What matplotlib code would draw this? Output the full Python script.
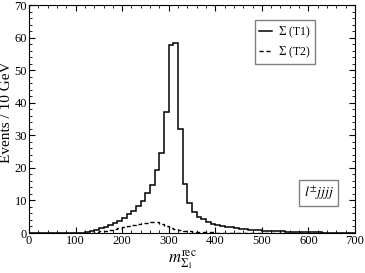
import numpy as np
import matplotlib
matplotlib.use("Agg")
import matplotlib.pyplot as plt
from matplotlib.ticker import MultipleLocator

plt.rcParams['font.family'] = ['Liberation Serif', 'DejaVu Serif']
plt.rcParams['mathtext.fontset'] = 'stix'

# bin edges, 10 GeV each
edges = np.arange(0, 710, 10)

# Sigma (T1), events per bin
t1 = [0, 0, 0, 0, 0, 0, 0, 0, 0, 0,
      0.05, 0.1, 0.2, 0.5, 0.9, 1.4, 1.9, 2.4, 3.1, 3.6,
      4.7, 5.8, 6.8, 8.2, 9.8, 12.2, 14.8, 19.3, 24.5, 37.3,
      57.6, 58.5, 31.8, 15.1, 9.2, 6.6, 5.0, 4.2, 3.4, 2.8,
      2.4, 2.2, 1.9, 1.7, 1.5, 1.3, 1.2, 1.0, 0.9, 0.8,
      0.7, 0.65, 0.6, 0.55, 0.5, 0.45, 0.4, 0.35, 0.3, 0.3,
      0.25, 0.2, 0.2, 0.15, 0.15, 0.1, 0.1, 0.1, 0.05, 0.05]

# Sigma (T2)
t2 = [0, 0, 0, 0, 0, 0, 0, 0, 0, 0,
      0, 0, 0.05, 0.1, 0.3, 0.5, 0.7, 0.9, 1.2, 1.5,
      1.8, 2.1, 2.4, 2.7, 3.0, 3.2, 3.5, 3.3, 2.8, 2.2,
      1.6, 1.2, 0.9, 0.7, 0.5, 0.4, 0.3, 0.25, 0.2, 0.2,
      0.15, 0.15, 0.1, 0.1, 0.1, 0.05, 0.05, 0.05, 0.05, 0.05,
      0, 0, 0, 0, 0, 0, 0, 0, 0, 0,
      0, 0, 0, 0, 0, 0, 0, 0, 0, 0]

fig = plt.figure(figsize=(3.65, 2.73), dpi=100)
ax = fig.add_axes([0.0795, 0.1465, 0.893, 0.835])

ax.stairs(t1, edges, color='black', lw=1.1, label=r'$\Sigma$ (T1)')
ax.stairs(t2, edges, color='black', lw=1.0, ls=(0, (3, 2)), label=r'$\Sigma$ (T2)')

ax.set_xlim(0, 700)
ax.set_ylim(0, 70)
ax.xaxis.set_major_locator(MultipleLocator(100))
ax.xaxis.set_minor_locator(MultipleLocator(20))
ax.yaxis.set_major_locator(MultipleLocator(10))
ax.yaxis.set_minor_locator(MultipleLocator(2))
ax.tick_params(which='both', direction='in', top=True, right=True, labelsize=9, pad=1.5)
ax.tick_params(which='major', length=4)
ax.tick_params(which='minor', length=2)

ax.set_ylabel('Events / 10 GeV', fontsize=11)
ax.yaxis.set_label_coords(-0.05, 0.53, transform=ax.transAxes)
ax.set_xlabel(r'$m_{\Sigma_1}^{\mathrm{rec}}$', fontsize=12)
ax.xaxis.set_label_coords(0.47, -0.07, transform=ax.transAxes)
ax.xaxis.label.set_va('top')

leg = ax.legend(loc='upper right', bbox_to_anchor=(0.877, 0.934), fontsize=8.5,
                fancybox=False, edgecolor='gray', framealpha=1,
                handlelength=1.1, handletextpad=0.5, borderpad=0.35,
                labelspacing=0.4, borderaxespad=0)
leg.get_frame().set_linewidth(1.0)

ax.text(0.935, 0.175, r'$l^{\pm}jjjj$', transform=ax.transAxes, fontsize=10,
        ha='right', va='center',
        bbox=dict(boxstyle='square,pad=0.3', fc='white', ec='gray', lw=1.0))

fig.savefig('out.png', dpi=100)
